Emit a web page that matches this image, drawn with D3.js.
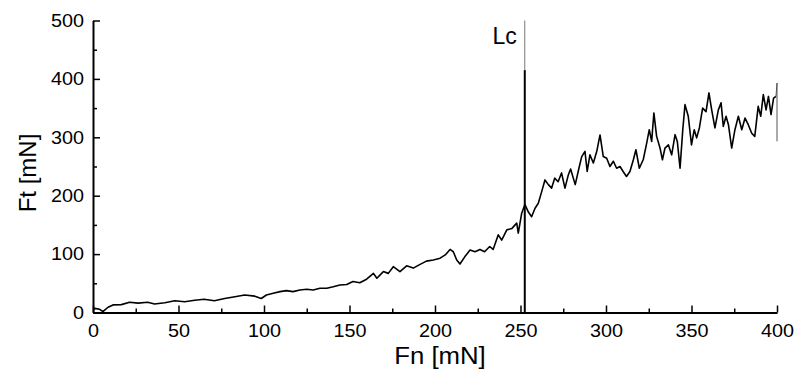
<!DOCTYPE html>
<html>
<head>
<meta charset="utf-8">
<script src="https://cdn.jsdelivr.net/npm/d3@7"></script>
<style>
  html, body { margin: 0; padding: 0; background: #fff; }
  svg { display: block; }
  text { font-family: "Liberation Sans", Arial, sans-serif; fill: #000; }
</style>
</head>
<body>
<svg id="chart" width="801" height="376"></svg>
<script>
// ---- data ----
const fn = [0.5, 1, 3.9, 5.8, 8.8, 11.7, 16.6, 21.4, 26.3, 32, 36, 42, 47.8, 53.6, 59.5, 65, 71, 77, 83, 88.7, 94.6, 98.4, 101.4,
  105.4, 109.4, 113, 117, 121, 125, 128.8, 132.7, 136.7, 140.5, 144.4, 148.4, 152, 156, 160, 164, 166, 169.8, 172.7, 175.6, 179.5, 183.4, 187.3,
  191, 195, 199, 203, 206, 208.8, 210.7, 212.7, 214.6, 217.5, 220.5, 223.4, 226.3, 229, 232, 234, 237, 239, 242, 245, 247.8, 248.7, 250.7,
  252.6, 254.6, 256.5, 258.5, 260.4, 262.4, 264.3, 266.3, 268.2, 270, 272, 274, 276, 278, 279.3, 282, 284.4, 285.8, 287.7, 289, 290.6, 292.6,
  294.6, 296.5, 298.4, 300.4, 302.3, 304.3, 306.2, 308.2, 310, 312, 314, 316, 317.5, 319.5, 321.8, 323.8, 325.3, 326.7, 328, 329.6, 331.6,
  333, 334.5, 336.5, 338.4, 340.4, 341.7, 343.3, 344.9, 346.2, 348.1, 350, 351.6, 353, 354.6, 356.5, 358.5, 360.2, 361.8, 363.7, 365.7,
  367.3, 368.6, 370.2, 371.6, 373.5, 375.4, 377.4, 379.4, 381.3, 383.2, 385.2, 387, 389, 390.5, 392, 393.6, 395, 396.5, 398, 399.4];
const ft = [6, 7, 5.5, 1.4, 9, 13, 13.5, 17.5, 16, 17.5, 14.6, 16.8, 20, 18.5, 21, 22.6, 20, 24, 27, 30, 28, 24, 30,
  33, 35.7, 37.4, 35.7, 38.6, 39.8, 38.6, 41.5, 41.5, 44, 47, 48, 53, 51, 57, 67, 58.6, 70, 67, 78.5, 70, 80, 76,
  82, 88, 90, 93, 98.6, 108, 104, 90, 83, 95.7, 107, 104, 108, 104, 113, 108, 133, 124, 141.5, 144, 153, 136, 170,
  185, 172, 164, 178.6, 187, 207, 227, 219, 213, 230, 224, 239, 213, 236, 245.6, 219, 250, 267, 276, 241.5, 270, 256,
  276, 304, 267, 264, 250, 259, 247, 250, 241.5, 233, 241.5, 261.6, 278.7, 247, 262, 290, 313, 293, 341.7, 301.6, 281.6,
  261.6, 281.6, 287, 270, 304.5, 293, 247, 313, 356, 336, 287, 313, 299, 316, 350, 344, 376, 347, 316, 347,
  359, 318.7, 336, 321.6, 281.6, 313, 336, 313, 333, 321.6, 307, 301.6, 353, 336, 373, 347, 370, 339, 367, 370];
const endFn = [400, 400];
const endFt = [393, 293];
const lcValue = 252.5;
const lcBlackTop = 415;
const xMajor = [0, 50, 100, 150, 200, 250, 300, 350, 400];
const xMinor = [25, 75, 125, 175, 225, 275, 325, 375];
const yMajor = [0, 100, 200, 300, 400, 500];
const yMinor = [50, 150, 250, 350, 450];
const xTitle = "Fn [mN]";
const yTitle = "Ft [mN]";
const lcLabel = "Lc";

// ---- layout ----
const svg = d3.select("#chart");
const x = d3.scaleLinear().domain([0, 400]).range([93, 777]);
const y = d3.scaleLinear().domain([0, 500]).range([312.5, 20.5]);

function stretch(sel, k) {
  sel.each(function () {
    const w = this.getComputedTextLength();
    this.setAttribute("textLength", w * k);
    this.setAttribute("lengthAdjust", "spacingAndGlyphs");
  });
}

// minor ticks
svg.append("g").attr("transform", `translate(0,${y(0)})`)
  .call(d3.axisBottom(x).tickValues(xMinor).tickSize(-4).tickFormat(""))
  .call(g => g.select(".domain").remove())
  .call(g => g.selectAll("line").attr("stroke", "#000").attr("stroke-width", 1.5));
svg.append("g").attr("transform", `translate(${x(0)},0)`)
  .call(d3.axisLeft(y).tickValues(yMinor).tickSize(-4).tickFormat(""))
  .call(g => g.select(".domain").remove())
  .call(g => g.selectAll("line").attr("stroke", "#000").attr("stroke-width", 1.5));

// major axes
const gx = svg.append("g").attr("transform", `translate(0,${y(0)})`)
  .call(d3.axisBottom(x).tickValues(xMajor).tickSizeInner(-7).tickSizeOuter(0).tickPadding(12).tickFormat(d3.format("d")));
gx.select(".domain").attr("stroke", "#000").attr("stroke-width", 2);
gx.selectAll("line").attr("stroke", "#000").attr("stroke-width", 1.5);
gx.selectAll("text").attr("font-size", 18).attr("fill", "#000").call(stretch, 1.1);

const gy = svg.append("g").attr("transform", `translate(${x(0)},0)`)
  .call(d3.axisLeft(y).tickValues(yMajor).tickSizeInner(-7).tickSizeOuter(0).tickPadding(9).tickFormat(d3.format("d")));
gy.select(".domain").attr("stroke", "#000").attr("stroke-width", 2);
gy.selectAll("line").attr("stroke", "#000").attr("stroke-width", 1.5);
gy.selectAll("text").attr("font-size", 18).attr("fill", "#000").call(stretch, 1.1);

// Lc marker
svg.append("line")
  .attr("x1", x(lcValue)).attr("x2", x(lcValue))
  .attr("y1", y(500)).attr("y2", y(lcBlackTop))
  .attr("stroke", "#777").attr("stroke-width", 1);
svg.append("line")
  .attr("x1", x(lcValue)).attr("x2", x(lcValue))
  .attr("y1", y(lcBlackTop)).attr("y2", y(0))
  .attr("stroke", "#000").attr("stroke-width", 2);
svg.append("text")
  .attr("x", x(lcValue) - 8).attr("y", 43.5)
  .attr("text-anchor", "end").attr("font-size", 23)
  .text(lcLabel);

// data curve
const pts = fn.map((d, i) => [d, ft[i]]);
const line = d3.line().x(d => x(d[0])).y(d => y(d[1]));
svg.append("path").datum(pts)
  .attr("d", line)
  .attr("fill", "none").attr("stroke", "#000").attr("stroke-width", 1.6)
  .attr("stroke-linejoin", "round");
svg.append("path").datum(endFn.map((d, i) => [d, endFt[i]]))
  .attr("d", line)
  .attr("fill", "none").attr("stroke", "#555").attr("stroke-width", 1);
svg.append("path").datum([pts[pts.length - 1], [endFn[0], endFt[0]]])
  .attr("d", line)
  .attr("fill", "none").attr("stroke", "#555").attr("stroke-width", 1);

// titles
svg.append("text")
  .attr("x", 440).attr("y", 363.5)
  .attr("text-anchor", "middle").attr("font-size", 23)
  .text(xTitle).call(stretch, 1.12);
svg.append("text")
  .attr("transform", "translate(36,173) rotate(-90)")
  .attr("text-anchor", "middle").attr("font-size", 24)
  .text(yTitle);
</script>
</body>
</html>
